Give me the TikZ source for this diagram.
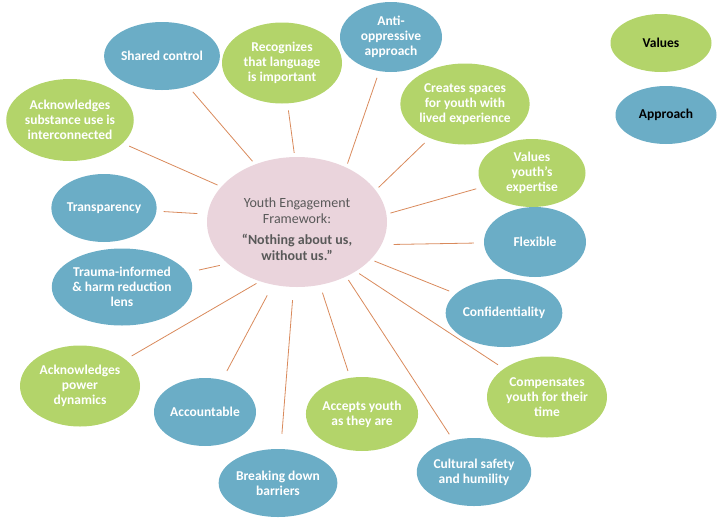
\documentclass[tikz,border=0pt]{standalone}
\usepackage{fontspec}
\setmainfont{Carlito}
\usetikzlibrary{shapes.geometric}

\definecolor{valueGreen}{HTML}{B3D46A}
\definecolor{approachBlue}{HTML}{6BADC6}
\definecolor{hubPink}{HTML}{EAD4DC}
\definecolor{hubText}{HTML}{595959}
\definecolor{spokeOrange}{HTML}{D98A5C}

\tikzset{
  bubble/.style={ellipse, inner sep=0pt, align=center, text=white,
    font=\fontsize{13.5}{15.3}\selectfont\bfseries},
  valueBubble/.style={bubble, fill=valueGreen, minimum width=120pt, minimum height=81pt},
  approachBubble/.style={bubble, fill=approachBlue, minimum width=102pt, minimum height=68pt},
  legendBubble/.style={minimum width=101pt, minimum height=58pt, text=black},
  spoke/.style={draw=spokeOrange, line width=0.8pt, shorten <=4pt, shorten >=7pt}
}

\begin{document}
\begin{tikzpicture}[x=1pt, y=-1pt]
\useasboundingbox (0,0) rectangle (726,528);

% hub
\node[ellipse, fill=hubPink, minimum width=180pt, minimum height=130pt, inner sep=0pt](hub) at (297,222){};
\node[align=center, text=hubText, font=\fontsize{14}{15.5}\selectfont](hubLabel) at (297,229)
  {Youth Engagement\\Framework:\\[6pt]{\bfseries \textquotedblleft Nothing about us,}\\{\bfseries without us.\textquotedblright}};

% values (green) and approach (blue) bubbles
\node[approachBubble](sharedCtrl) at (162,56){Shared control};
\node[valueBubble](recognizesLang) at (282,63){Recognizes\\that language\\is important};
\node[approachBubble, minimum height=70pt](antiOppressive) at (391,37){Anti-\\oppressive\\approach};
\node[valueBubble](createsSpaces) at (465,104){Creates spaces\\for youth with\\lived experience};
\node[valueBubble, minimum width=107pt, minimum height=68pt](valuesExpertise) at (532,173){Values\\youth\textquoteright s\\expertise};
\node[approachBubble, minimum height=70pt](flexible) at (535,242){Flexible};
\node[approachBubble](confidentiality) at (504,313){Confidentiality};
\node[valueBubble](compensates) at (547,397){Compensates\\youth for their\\time};
\node[approachBubble](culturalSafety) at (474,472){Cultural safety\\and humility};
\node[valueBubble, minimum width=102pt, minimum height=74pt](acceptsYouth) at (362,414){Accepts youth\\as they are};
\node[approachBubble](breakingBarriers) at (278,483){Breaking down\\barriers};
\node[approachBubble](accountable) at (205,412){Accountable};
\node[valueBubble](powerDynamics) at (80,386){Acknowledges\\power\\dynamics};
\node[approachBubble, minimum width=136pt, minimum height=77pt](traumaLens) at (122,287){Trauma-informed\\\& harm reduction\\lens};
\node[approachBubble](transparency) at (104,208){Transparency};
\node[valueBubble, minimum width=122pt, minimum height=82pt](substanceUse) at (70,120){Acknowledges\\substance use is\\interconnected};

% legend
\node[valueBubble, legendBubble](legendValues) at (661,43){Values};
\node[approachBubble, legendBubble](legendApproach) at (666,115){Approach};

% spokes
\draw[spoke] (hub.126) -- (sharedCtrl);
\draw[spoke] (hub.92) -- (recognizesLang);
\draw[spoke] (hub.48) -- (antiOppressive);
\draw[spoke] (hub.22) -- (createsSpaces);
\draw[spoke] (hub.5) -- (valuesExpertise);
\draw[spoke, shorten <=12pt, shorten >=10pt] (hub.-15) -- (flexible);
\draw[spoke] (hub.-27) -- (confidentiality);
\draw[spoke] (hub.-40) -- (compensates);
\draw[spoke] (hub.-48) -- (culturalSafety);
\draw[spoke, shorten <=8pt] (hub.-70) -- (acceptsYouth);
\draw[spoke, shorten <=13pt, shorten >=15pt] (hub.-93) -- (breakingBarriers);
\draw[spoke, shorten <=12pt, shorten >=10pt] (hub.-111) -- (accountable);
\draw[spoke] (hub.-122) -- (powerDynamics);
\draw[spoke, shorten <=8pt, shorten >=12pt] (hub.-149) -- (traumaLens);
\draw[spoke, shorten <=10pt] (hub.175) -- (transparency);
\draw[spoke] (hub.155) -- (substanceUse);
\end{tikzpicture}
\end{document}
